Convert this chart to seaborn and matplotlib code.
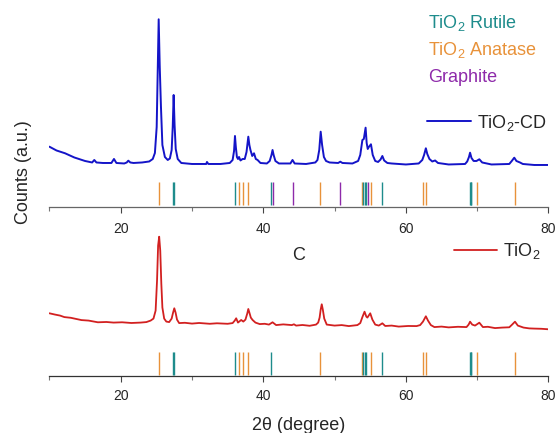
import matplotlib
matplotlib.use('Agg')
import matplotlib.pyplot as plt
import seaborn as sns

# ----------------------------
# XRD traces: (2theta in degree, counts in a.u.)
# ----------------------------
cd_trace = [
    (10.0, 60.3), (11.0, 56.5), (12.2, 53.7), (13.5, 49.5), (15.0, 46.0), (16.0, 44.5),
    (16.3, 47.0), (16.6, 44.5), (17.5, 44.0), (18.7, 44.0), (19.06, 48.0), (19.4, 44.0),
    (20.5, 43.5), (20.85, 44.5), (21.07, 46.3), (21.35, 44.5), (21.8, 44.0), (23.0, 44.5),
    (24.0, 45.5), (24.5, 48.0), (24.8, 54.0), (25.05, 80.0), (25.2, 140.0), (25.33, 187.7),
    (25.48, 140.0), (25.65, 100.0), (25.85, 62.0), (26.2, 50.0), (26.6, 47.0), (26.9, 48.5),
    (27.15, 57.0), (27.3, 80.0), (27.43, 112.0), (27.56, 82.0), (27.72, 58.0), (28.0, 48.0),
    (28.5, 44.0), (30.0, 43.0), (32.0, 43.0), (32.1, 45.0), (32.3, 43.0), (34.0, 43.0),
    (35.3, 44.0), (35.7, 47.0), (35.9, 56.0), (36.03, 71.0), (36.15, 60.0), (36.3, 50.0),
    (36.45, 48.0), (36.6, 50.0), (36.8, 46.5), (37.1, 48.0), (37.4, 48.0), (37.65, 55.0),
    (37.9, 70.3), (38.05, 62.0), (38.2, 57.0), (38.45, 51.0), (38.7, 53.7), (38.95, 48.0),
    (39.2, 47.0), (39.6, 44.0), (40.5, 43.5), (40.9, 46.0), (41.15, 52.0), (41.3, 57.0),
    (41.45, 52.0), (41.7, 46.0), (42.2, 43.5), (43.8, 43.5), (44.1, 47.0), (44.4, 43.5),
    (46.0, 43.0), (47.3, 44.5), (47.6, 47.0), (47.85, 57.0), (48.05, 75.3), (48.25, 62.0),
    (48.5, 50.0), (48.8, 46.0), (49.3, 44.5), (50.5, 44.0), (50.8, 45.3), (51.1, 44.0),
    (52.5, 43.5), (53.3, 46.0), (53.6, 52.0), (53.9, 67.0), (54.1, 68.0), (54.35, 79.3),
    (54.5, 64.0), (54.65, 58.0), (54.8, 60.0), (55.1, 62.7), (55.35, 52.0), (55.7, 46.0),
    (56.1, 45.0), (56.45, 47.5), (56.7, 51.0), (56.95, 46.5), (57.4, 44.0), (58.0, 43.5),
    (60.0, 42.5), (61.8, 43.5), (62.3, 47.0), (62.55, 52.0), (62.8, 58.7), (63.0, 53.0),
    (63.3, 48.0), (63.7, 45.5), (64.1, 46.5), (64.5, 44.0), (66.0, 42.5), (68.3, 43.0),
    (68.6, 45.5), (68.85, 50.0), (69.0, 54.3), (69.2, 49.0), (69.5, 46.0), (69.9, 46.0),
    (70.3, 47.7), (70.7, 44.5), (72.0, 42.5), (74.5, 43.0), (74.85, 46.0), (75.2, 49.3),
    (75.5, 46.0), (76.0, 44.5), (76.4, 43.0), (78.0, 42.0), (80.0, 42.0),
]

tio2_trace = [
    (10.0, 62.3), (10.8, 61.0), (11.5, 60.0), (12.1, 58.5), (13.0, 57.8), (14.5, 55.5),
    (15.5, 55.0), (16.8, 53.3), (18.0, 53.6), (19.0, 53.0), (20.2, 53.3), (21.5, 52.6),
    (22.8, 53.0), (23.6, 53.5), (24.2, 55.0), (24.6, 57.0), (24.9, 65.0), (25.1, 95.0),
    (25.25, 130.0), (25.4, 138.9), (25.55, 125.0), (25.7, 92.0), (25.85, 68.0), (26.1, 57.0),
    (26.4, 54.0), (26.8, 53.5), (27.15, 57.0), (27.35, 63.0), (27.52, 67.3), (27.7, 63.0),
    (27.9, 56.0), (28.2, 52.5), (29.0, 52.8), (30.0, 52.0), (31.0, 52.6), (32.5, 51.8),
    (33.5, 52.3), (35.0, 51.8), (35.7, 52.5), (36.0, 55.0), (36.2, 57.3), (36.45, 53.0),
    (36.9, 55.6), (37.2, 54.0), (37.5, 56.0), (37.75, 62.0), (37.9, 66.6), (38.05, 63.0),
    (38.25, 58.0), (38.5, 55.6), (38.9, 53.0), (39.5, 51.5), (40.2, 51.8), (40.8, 51.0),
    (41.3, 53.3), (41.8, 50.5), (42.8, 51.2), (44.0, 50.5), (44.3, 51.3), (44.6, 50.0),
    (45.5, 50.6), (46.5, 49.8), (47.4, 51.0), (47.7, 53.0), (47.9, 58.0), (48.05, 66.0),
    (48.2, 71.3), (48.35, 66.0), (48.55, 57.0), (48.9, 51.0), (50.0, 50.0), (51.0, 50.5),
    (52.0, 49.5), (53.2, 50.5), (53.6, 52.5), (53.9, 58.5), (54.2, 63.9), (54.45, 59.0),
    (54.6, 58.0), (55.0, 62.3), (55.3, 56.0), (55.7, 51.0), (56.2, 50.0), (56.7, 52.3),
    (57.1, 49.6), (58.0, 50.0), (59.0, 49.0), (60.3, 49.6), (61.5, 49.5), (62.0, 50.5),
    (62.4, 54.0), (62.8, 59.3), (63.1, 55.0), (63.5, 50.5), (64.0, 48.5), (65.0, 49.0),
    (66.0, 48.2), (67.3, 48.8), (68.5, 48.5), (68.8, 51.0), (69.0, 53.9), (69.3, 51.0),
    (69.7, 50.0), (70.3, 52.9), (70.8, 48.5), (71.5, 48.8), (72.5, 47.5), (73.5, 48.0),
    (74.5, 48.3), (74.9, 51.0), (75.3, 53.9), (75.7, 50.0), (76.5, 48.0), (77.3, 47.2),
    (78.0, 47.0), (79.0, 46.8), (80.0, 46.3),
]

# ----------------------------
# Reference patterns (2theta, degree)
# ----------------------------
rutile_lines = [27.4, 27.5, 36.05, 41.05, 54.05, 54.25, 54.45, 56.7, 68.95, 69.1, 69.2]
anatase_lines = [25.33, 36.6, 37.1, 37.85, 48.0, 53.9, 55.05, 62.35, 62.8, 70.0, 75.3]
graphite_lines = [41.3, 44.1, 50.8, 54.75]

x_major = [20, 40, 60, 80]
x_minor = [10, 30, 50, 70]

teal = '#1E8C8C'
orange = '#E8923A'
purple = '#8E2AAA'
blue = '#1414C8'
red = '#D22020'

cd_theta, cd_counts = zip(*cd_trace)
tio2_theta, tio2_counts = zip(*tio2_trace)

sns.set_style('ticks')
plt.rcParams['font.family'] = ['Liberation Sans', 'DejaVu Sans']
plt.rcParams['mathtext.fontset'] = 'custom'
plt.rcParams['mathtext.rm'] = 'Liberation Sans'
plt.rcParams['mathtext.it'] = 'Liberation Sans:italic'

fig = plt.figure(figsize=(5.56, 4.33), dpi=100)
ax_top = fig.add_axes([0.0888, 0.522, 0.8977, 0.478])
ax_bot = fig.add_axes([0.0888, 0.1326, 0.8977, 0.3478])

sns.lineplot(x=list(cd_theta), y=list(cd_counts), ax=ax_top, color=blue, lw=1.4,
             label='TiO$_\\mathregular{2}$-CD')
sns.lineplot(x=list(tio2_theta), y=list(tio2_counts), ax=ax_bot, color=red, lw=1.3,
             label='TiO$_\\mathregular{2}$')

# sticks
ax_top.vlines(anatase_lines, 2, 25, color=orange, lw=1.0)
ax_top.vlines(rutile_lines, 2, 25, color=teal, lw=1.0)
ax_top.vlines(graphite_lines, 2, 25, color=purple, lw=1.0)
ax_bot.vlines(anatase_lines, 1, 24, color=orange, lw=1.0)
ax_bot.vlines(rutile_lines, 1, 24, color=teal, lw=1.0)

for ax, ymax, pad in [(ax_top, 207, 7), (ax_bot, 150.6, 6)]:
    ax.set_xlim(10, 80)
    ax.set_ylim(0, ymax)
    ax.set_yticks([])
    ax.set_xticks(x_major)
    ax.set_xticks(x_minor, minor=True)
    ax.tick_params(axis='x', which='major', length=4, width=0.8, color='#444',
                   labelsize=10, pad=pad)
    ax.tick_params(axis='x', which='minor', length=3, width=0.8, color='#777')
    for s in ['left', 'top', 'right']:
        ax.spines[s].set_visible(False)
    ax.spines['bottom'].set_color('#333')
    ax.spines['bottom'].set_linewidth(0.9)
    ax.set_ylabel('')
    ax.patch.set_alpha(0)

ax_top.spines['bottom'].set_color('#666')

# phase labels
ax_top.text(0.758, 0.863, 'TiO$_\\mathregular{2}$ Rutile', color=teal, fontsize=13,
            transform=ax_top.transAxes, va='baseline')
ax_top.text(0.758, 0.734, 'TiO$_\\mathregular{2}$ Anatase', color=orange, fontsize=13,
            transform=ax_top.transAxes, va='baseline')
ax_top.text(0.758, 0.604, 'Graphite', color=purple, fontsize=13,
            transform=ax_top.transAxes, va='baseline')

ax_top.legend(loc='center left', bbox_to_anchor=(0.757, 0.407), frameon=False,
              fontsize=13, handlelength=2.4, handletextpad=0.37, borderpad=0,
              borderaxespad=0)
ax_bot.legend(loc='center left', bbox_to_anchor=(0.811, 0.827), frameon=False,
              fontsize=13, handlelength=2.4, handletextpad=0.3, borderpad=0,
              borderaxespad=0)

ax_bot.text(0.5, 0.80, 'C', fontsize=13, transform=ax_bot.transAxes,
            ha='center', va='center')

ax_bot.set_xlabel('2θ (degree)', fontsize=13, labelpad=10)
fig.text(0.043, 0.603, 'Counts (a.u.)', rotation=90, fontsize=13,
         ha='center', va='center')

fig.savefig('out.png', dpi=100)
